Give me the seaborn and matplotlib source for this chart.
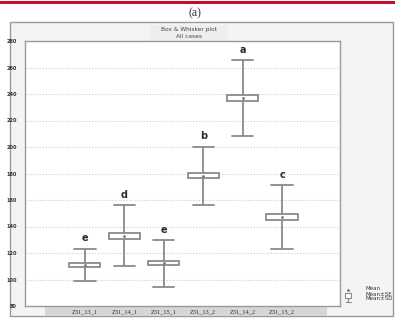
import numpy as np
import pandas as pd
import matplotlib
matplotlib.use("Agg")
import matplotlib.pyplot as plt
import seaborn as sns
from matplotlib.patches import Rectangle
from matplotlib.lines import Line2D

# ---- data ----
categories = ["Z31_13_1", "Z31_14_1", "Z31_15_1", "Z31_13_2", "Z31_14_2", "Z31_15_2"]
means = [111.0, 133.0, 112.3, 178.3, 237.0, 147.0]
se = [1.6, 2.1, 1.7, 1.8, 2.4, 2.1]
sd = [12.2, 22.9, 17.6, 22.0, 28.7, 24.2]
letters = ["e", "d", "e", "b", "a", "c"]
yticks = [80, 100, 120, 140, 160, 180, 200, 220, 240, 260, 280]

# five-point samples so that box = mean±SE, whiskers = mean±SD
rows = []
for c, m, s, d in zip(categories, means, se, sd):
    for v in (m - d, m - s, m, m + s, m + d):
        rows.append({"group": c, "value": v})
df = pd.DataFrame(rows)

sns.set_style("white")
plt.rcParams["font.family"] = ["DejaVu Sans"]

fig = plt.figure(figsize=(3.95, 3.21), dpi=100)
W, H = 395, 321

def fx(px):
    return px / W

def fy(py):
    return (H - py) / H

def frect(x0, y0, x1, y1, **kw):
    r = Rectangle((fx(x0), fy(y1)), fx(x1) - fx(x0), fy(y0) - fy(y1),
                  transform=fig.transFigure, **kw)
    fig.add_artist(r)
    return r

# outer panel frame
frect(10, 22, 393, 316, facecolor="#f4f4f4", edgecolor="#9a9a9a",
      linewidth=1.0, zorder=-3)
# x label band
frect(45, 306, 327, 316, facecolor="#d6d6d6", edgecolor="none", zorder=-2)
# title box
frect(150, 25, 228, 41, facecolor="#eeeeee", edgecolor="none", zorder=-2)
# top red rule
fig.add_artist(Line2D([0, 1], [fy(2), fy(2)], transform=fig.transFigure,
                      color="#c0102e", linewidth=2.2))

fig.text(fx(195), fy(13), "(a)", ha="center", va="center", fontsize=8.5,
         family=["Liberation Serif", "DejaVu Serif"], color="#333333")
fig.text(fx(189), fy(29), "Box & Whisker plot", ha="center", va="center",
         fontsize=4.2, color="#444444")
fig.text(fx(189), fy(37), "All cases", ha="center", va="center",
         fontsize=4.2, color="#444444")

ax = fig.add_axes([fx(25), fy(306), fx(340) - fx(25), fy(41) - fy(306)])
ax.set_zorder(1)
ax.set_facecolor("white")

sns.boxplot(data=df, x="group", y="value", order=categories, whis=np.inf,
            width=0.79, color="white", linecolor="#8a8a8a", linewidth=1.3,
            showmeans=True,
            meanprops=dict(marker="o", markersize=1.0, markerfacecolor="#777777",
                           markeredgecolor="#777777"),
            medianprops=dict(linewidth=0, color="white"),
            ax=ax)

# caps: a bit wider than matplotlib's default (about 2/3 of the box)
for line in ax.lines:
    xd = np.asarray(line.get_xdata(), dtype=float)
    yd = np.asarray(line.get_ydata(), dtype=float)
    if len(xd) == 2 and np.isclose(yd[0], yd[1]):
        w = abs(xd[1] - xd[0])
        if 0.2 < w < 0.6:
            c = xd.mean()
            line.set_xdata([c - 0.27, c + 0.27])

for i, (m, d, lab) in enumerate(zip(means, sd, letters)):
    ax.text(i, m + d + 4, lab, ha="center", va="bottom", fontsize=7,
            color="#2a2a2a", fontweight="semibold")

ax.set_xlim(-1.52, 6.47)
ax.set_ylim(80, 280)
ax.set_yticks(yticks)
ax.set_yticklabels([str(t) for t in yticks], fontsize=3.6, fontweight="bold",
                   color="#333333")
ax.set_xticks(range(len(categories)))
ax.set_xticklabels(categories, fontsize=4.6, color="#333333",
                   family=["Liberation Serif", "DejaVu Serif"])
ax.tick_params(axis="y", length=2, width=0.6, color="#888888", pad=4)
ax.tick_params(axis="x", length=0, pad=2.5)
ax.set_xlabel("")
ax.set_ylabel("")
for sp in ax.spines.values():
    sp.set_color("#9a9a9a")
    sp.set_linewidth(1.0)
for t in yticks[1:-1]:
    ax.axhline(t, color="#cccccc", linestyle=(0, (1, 1.6)), linewidth=0.8, zorder=0)

# legend at lower right
lx = fx(348)
fig.add_artist(Line2D([lx], [fy(290)], transform=fig.transFigure, marker="o",
                      markersize=1.0, color="#777777", linestyle="none"))
frect(345, 293, 351, 298, facecolor="white", edgecolor="#8a8a8a", linewidth=0.8)
fig.add_artist(Line2D([lx, lx], [fy(298), fy(302)], transform=fig.transFigure,
                      color="#8a8a8a", linewidth=0.8))
fig.add_artist(Line2D([fx(345.5), fx(350.5)], [fy(302), fy(302)],
                      transform=fig.transFigure, color="#8a8a8a", linewidth=0.8))
for k, s in enumerate(["Mean", "Mean\u00b1SE", "Mean\u00b1SD"]):
    fig.text(fx(365), fy(289 + 5 * k), s, ha="left", va="center", fontsize=4,
             color="#333333")

fig.savefig("out.png", dpi=100)
